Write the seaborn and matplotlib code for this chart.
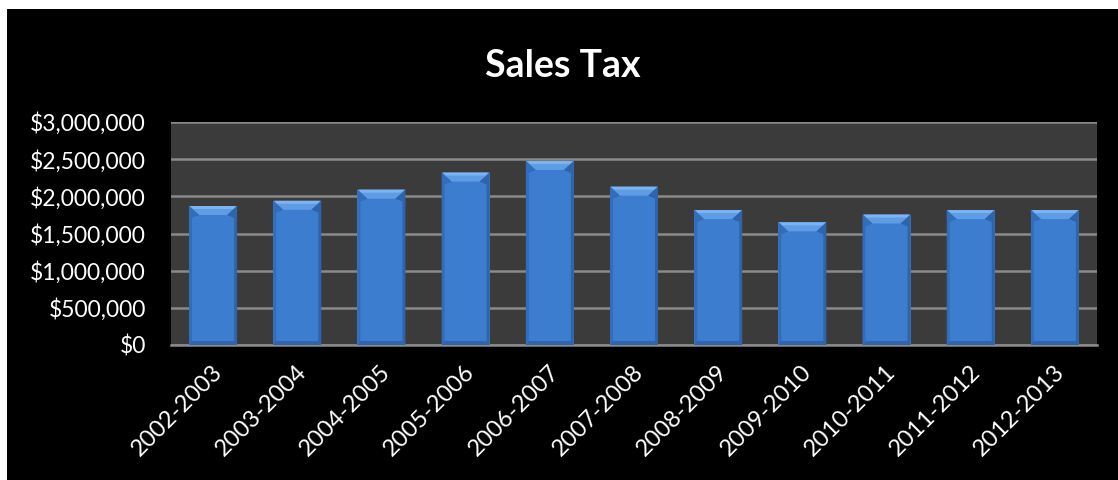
import matplotlib
matplotlib.use("Agg")
import matplotlib.pyplot as plt
import matplotlib.transforms as mtransforms
import numpy as np
import pandas as pd
import seaborn as sns
from matplotlib.patches import Polygon, Rectangle
from matplotlib.ticker import FuncFormatter

# Fiscal years and sales tax revenue (USD)
years = ["2002-2003", "2003-2004", "2004-2005", "2005-2006", "2006-2007",
         "2007-2008", "2008-2009", "2009-2010", "2010-2011", "2011-2012",
         "2012-2013"]
sales_tax = [1870000, 1940000, 2090000, 2320000, 2475000, 2130000,
             1815000, 1650000, 1755000, 1815000, 1815000]
y_ticks = [0, 500000, 1000000, 1500000, 2000000, 2500000, 3000000]

sns.set_theme(style="dark")
plt.rcParams["font.family"] = ["Lato", "DejaVu Sans"]

W, H = 1118, 480
fig = plt.figure(figsize=(W / 100, H / 100), dpi=100, facecolor="white")
# black chart area, leaving a thin white margin on the top and left edges
fig.patches.append(Rectangle((7 / W, 0), 1 - 7 / W, 1 - 9 / H,
                             transform=fig.transFigure, facecolor="black",
                             edgecolor="none", zorder=-10))

ax = fig.add_axes([171 / W, 135 / H, 926 / W, 223 / H])
ax.set_facecolor("#3B3B3B")

df = pd.DataFrame({"year": years, "tax": sales_tax})
sns.barplot(data=df, x="year", y="tax", color="#3D7DD0", saturation=1,
            width=0.57, edgecolor="none", ax=ax, zorder=3)

ax.set_xlim(-0.5, len(years) - 0.5)
ax.set_ylim(0, 3000000)
ax.set_yticks(y_ticks)
ax.yaxis.set_major_formatter(FuncFormatter(lambda v, _: f"${v:,.0f}"))
ax.set_axisbelow(True)
ax.yaxis.grid(True, color="#8A8A8A", linewidth=1.8)
ax.xaxis.grid(False)
for side in ["top", "right", "left"]:
    ax.spines[side].set_visible(False)
ax.spines["bottom"].set_color("#8A8A8A")
ax.spines["bottom"].set_linewidth(1.8)
ax.set_xlabel("")
ax.set_ylabel("")
ax.tick_params(axis="y", length=0, pad=18, labelsize=16.5, labelcolor="white")
ax.tick_params(axis="x", length=0, pad=17, labelsize=17, labelcolor="white")
shift = mtransforms.ScaledTranslation(6 / 100, 0, fig.dpi_scale_trans)
for lbl in ax.get_xticklabels():
    lbl.set_rotation(45)
    lbl.set_ha("right")
    lbl.set_va("center")
    lbl.set_rotation_mode("anchor")
    lbl.set_transform(lbl.get_transform() + shift)

# bevelled look on each bar, built from the bar geometry
px_x = (len(years)) / 926
px_y = 3000000 / 223
for p in ax.patches:
    x0, w, h = p.get_x(), p.get_width(), p.get_height()
    x1 = x0 + w
    top = Polygon([(x0, h), (x1, h), (x1 - 10 * px_x, h - 9 * px_y),
                   (x0 + 10 * px_x, h - 9 * px_y)],
                  closed=True, facecolor="#5E9CE6", edgecolor="none", zorder=4)
    top_hi = Polygon([(x0 + 1 * px_x, h), (x1 - 1 * px_x, h),
                      (x1 - 4 * px_x, h - 3 * px_y), (x0 + 4 * px_x, h - 3 * px_y)],
                     closed=True, facecolor="#7DB3F0", edgecolor="none", zorder=5)
    left = Polygon([(x0, h), (x0 + 10 * px_x, h - 9 * px_y),
                    (x0 + 3 * px_x, h - 12 * px_y), (x0 + 3 * px_x, 3 * px_y),
                    (x0, 0)],
                   closed=True, facecolor="#336DB9", edgecolor="none", zorder=4)
    right = Polygon([(x1, h), (x1 - 10 * px_x, h - 9 * px_y),
                     (x1 - 3 * px_x, h - 12 * px_y), (x1 - 3 * px_x, 3 * px_y),
                     (x1, 0)],
                    closed=True, facecolor="#2F64AB", edgecolor="none", zorder=4)
    bottom = Polygon([(x0, 0), (x1, 0), (x1 - 3 * px_x, 4 * px_y),
                      (x0 + 3 * px_x, 4 * px_y)],
                     closed=True, facecolor="#3064AC", edgecolor="none", zorder=4)
    for poly in (top, top_hi, left, right, bottom):
        ax.add_patch(poly)

fig.text(562.5 / W, 1 - 66 / H, "Sales Tax", color="white", fontsize=27,
         fontweight="bold", ha="center", va="center")

fig.savefig("out.png", dpi=100, facecolor=fig.get_facecolor())
